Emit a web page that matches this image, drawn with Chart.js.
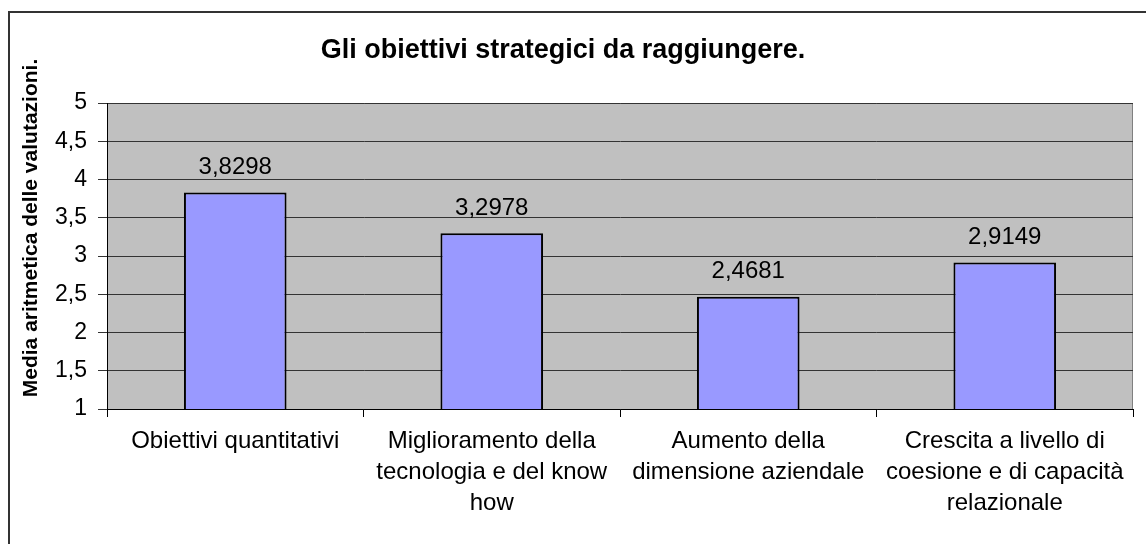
<!DOCTYPE html>
<html lang="it">
<head>
<meta charset="utf-8">
<title>Gli obiettivi strategici da raggiungere.</title>
<script src="https://cdn.jsdelivr.net/npm/chart.js@4/dist/chart.umd.min.js"></script>
<style>
  html, body { margin: 0; padding: 0; background: #fff; }
  canvas { display: block; }
</style>
</head>
<body>
<canvas id="chart" width="1146" height="544"></canvas>
<script>
const chartTitle = 'Gli obiettivi strategici da raggiungere.';
const yTitle = 'Media aritmetica delle valutazioni.';

const categories = [
  ['Obiettivi quantitativi'],
  ['Miglioramento della', 'tecnologia e del know', 'how'],
  ['Aumento della', 'dimensione aziendale'],
  ['Crescita a livello di', 'coesione e di capacità', 'relazionale']
];
const values = [3.8298, 3.2978, 2.4681, 2.9149];
const yMin = 1;
const yMax = 5;
const yStep = 0.5;

const FONT = '"Liberation Sans", Arial, sans-serif';

// comma as decimal separator
const fmt = v => String(v).replace('.', ',');

// frame, plot background, titles
const decor = {
  id: 'decor',
  beforeDraw(chart) {
    const { ctx, chartArea: a } = chart;
    ctx.save();
    ctx.fillStyle = '#fff';
    ctx.fillRect(0, 0, chart.width, chart.height);
    // outer frame (only top and left visible)
    ctx.strokeStyle = '#333';
    ctx.lineWidth = 2;
    ctx.beginPath();
    ctx.moveTo(9, chart.height);
    ctx.lineTo(9, 12);
    ctx.lineTo(chart.width, 12);
    ctx.stroke();
    // plot area
    ctx.fillStyle = '#c0c0c0';
    ctx.fillRect(a.left, a.top, a.right - a.left, a.bottom - a.top);
    ctx.strokeStyle = '#808080';
    ctx.lineWidth = 1;
    ctx.strokeRect(a.left + 0.5, a.top + 0.5, a.right - a.left - 1, a.bottom - a.top);
    ctx.restore();
  },
  afterDraw(chart) {
    const { ctx } = chart;
    ctx.save();
    ctx.fillStyle = '#000';
    ctx.textAlign = 'center';
    ctx.textBaseline = 'alphabetic';
    ctx.font = 'bold 27px ' + FONT;
    ctx.fillText(chartTitle, 563, 58);
    ctx.translate(37, 228);
    ctx.rotate(-Math.PI / 2);
    ctx.font = 'bold 21px ' + FONT;
    ctx.fillText(yTitle, 0, 0);
    ctx.restore();
  }
};

// value labels above bars
const barLabels = {
  id: 'barLabels',
  afterDatasetsDraw(chart) {
    const { ctx } = chart;
    const meta = chart.getDatasetMeta(0);
    ctx.save();
    ctx.fillStyle = '#000';
    ctx.font = '24px ' + FONT;
    ctx.textAlign = 'center';
    ctx.textBaseline = 'middle';
    meta.data.forEach((bar, i) => {
      ctx.fillText(fmt(values[i]), bar.x, bar.y - 25);
    });
    ctx.restore();
  }
};

new Chart(document.getElementById('chart'), {
  type: 'bar',
  data: {
    labels: categories,
    datasets: [{
      data: values,
      backgroundColor: '#9999ff',
      borderColor: '#000',
      borderWidth: 2,
      borderSkipped: false,
      categoryPercentage: 0.8,
      barPercentage: 0.5
    }]
  },
  options: {
    responsive: false,
    animation: false,
    layout: { padding: { top: 103, right: 13, bottom: 0, left: 0 } },
    plugins: {
      legend: { display: false },
      title: { display: false },
      tooltip: { enabled: false }
    },
    scales: {
      x: {
        offset: true,
        grid: {
          offset: true,
          drawOnChartArea: false,
          drawTicks: true,
          tickLength: 8,
          color: '#000'
        },
        border: { color: '#000', width: 1 },
        ticks: {
          color: '#000',
          font: { family: FONT, size: 24, lineHeight: 1.29 },
          padding: 9,
          maxRotation: 0,
          autoSkip: false
        },
        afterFit(scale) { scale.height = 135; }
      },
      y: {
        min: yMin,
        max: yMax,
        grid: {
          color: '#333',
          lineWidth: 1,
          tickLength: 9,
          drawTicks: true
        },
        border: { color: '#000', width: 1 },
        ticks: {
          stepSize: yStep,
          color: '#000',
          font: { family: FONT, size: 23 },
          padding: 11,
          callback: v => fmt(v)
        },
        afterFit(scale) { scale.width = 107; }
      }
    }
  },
  plugins: [decor, barLabels]
});
</script>
</body>
</html>
